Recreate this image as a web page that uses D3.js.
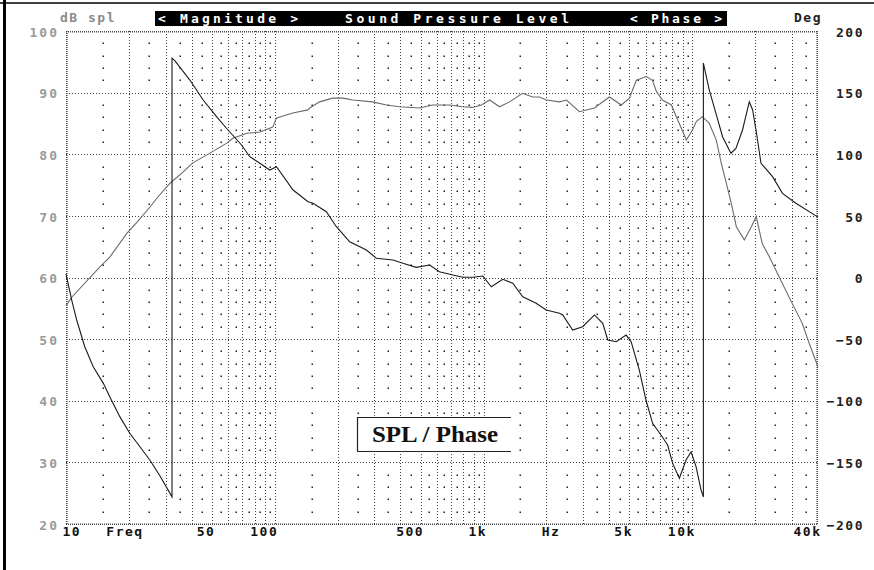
<!DOCTYPE html>
<html><head><meta charset="utf-8">
<script src="https://cdn.jsdelivr.net/npm/d3@7"></script>
<style>body{margin:0;background:#fff} svg{display:block}</style>
</head><body>
<svg id="c" width="874" height="570"></svg>
<script>
// ---------- data ----------
const splFreq = [10, 10.65, 14.5, 16.2, 19.6, 21.9, 25.2, 27.3, 31.5, 36.3, 40.5, 47.3, 58.9, 63, 73.5, 84.8, 97.8, 102, 122, 144,
  147, 164, 189, 212, 236, 294, 343, 396, 494, 570, 688, 793, 885, 977, 1069, 1193, 1332, 1537, 1716, 1853, 2001, 2310,
  2495, 2880, 3397, 4008, 4571, 4996, 5395, 6026, 6442, 6730, 7188, 7943, 8380, 8954, 9355, 10000, 10450, 11170, 12060,
  13030, 13770, 14550, 15380, 16260, 17750, 19150, 20230, 21630, 23350, 26070, 30080, 33590, 36310, 40000];
const splDb = [55.4, 56.8, 61.7, 63.3, 67.2, 69.0, 71.4, 72.9, 75.3, 77.1, 78.6, 79.9, 81.8, 82.6, 83.4, 83.6, 84.4, 85.9, 86.7, 87.2,
  87.5, 88.5, 89.1, 89.1, 88.8, 88.5, 88.0, 87.7, 87.5, 88.0, 88.0, 87.7, 87.6, 88.0, 88.8, 87.7, 88.5, 89.9, 89.3, 89.3, 88.8, 88.5,
  88.8, 86.9, 87.5, 89.3, 88.0, 89.1, 92.0, 92.6, 92.0, 90.2, 88.8, 88.0, 86.1, 83.9, 82.3, 83.9, 85.3, 86.1, 85.0,
  82.3, 78.5, 75.3, 72.0, 68.2, 66.1, 68.2, 69.9, 65.5, 63.4, 60.1, 55.8, 52.6, 49.3, 45.5];

const phaseFreq = [10, 10.65, 11.25, 12.3, 13.5, 15.1, 16.2, 18.1, 20.2, 22.6, 25.2, 28.2, 32.2, 32.2, 33.2, 39.2, 45.4, 52.6, 58.7, 69.3,
  75.9, 84.8, 94.6, 101.9, 122.4, 144.3, 152.5, 176.6, 197.3, 228.4, 274.8, 306.6, 368, 411, 476, 552, 615, 713, 796, 889,
  992, 1089, 1237, 1380, 1542, 1787, 1995, 2310, 2395, 2673, 2985, 3397, 3724, 3936, 4316, 4820, 5093, 5575, 5998, 6454,
  7079, 7617, 8050, 8670, 9333, 9863, 10420, 11010, 11300, 11300, 12060, 12980, 13960, 15310, 16180, 17400, 18750, 19450, 20190, 21330,
  24230, 27040, 31330, 40000];
const phaseDeg = [3, -18.3, -34.5, -56.2, -72.4, -85.9, -96.7, -112.9, -126.4, -137.3, -148.1, -161, -178, 178, 176, 160.2, 144, 130.5, 121.1, 107.5,
  98, 92.7, 87.2, 89.9, 71, 61.5, 60.2, 53.4, 41.2, 29, 22.3, 15.6, 14.2, 11.5, 8.2, 10.1, 4.7, 2, 0.2, 0.2,
  1.2, -7.5, -1.5, -4.7, -15.6, -20.9, -26.4, -29, -30.4, -42.6, -39.9, -30.4, -37.2, -50.7, -52.1, -46.7, -52.1, -75.1, -99.4, -118.3,
  -127.8, -135.9, -150.8, -162.9, -148.1, -141.4, -153.5, -172.4, -178, 174, 152.1, 133.2, 114.2, 100.8, 104.8, 119.7, 142.6, 135.9, 119.7, 92.7,
  81.8, 68.3, 60.2, 49];

const dbTicks = [20, 30, 40, 50, 60, 70, 80, 90, 100];
const degTicks = [-200, -150, -100, -50, 0, 50, 100, 150, 200];
const freqTickValues = [10, 50, 100, 500, 1000, 5000, 10000, 40000];
const freqTickLabels = ["10", "50", "100", "500", "1k", "5k", "10k", "40k"];
const gridFreqs = [20,30,40,50,60,70,80,90,100,200,300,400,500,600,700,800,900,1000,2000,3000,4000,5000,6000,7000,8000,9000,10000,20000,30000];
const minorFreqs = [15,25,35,45,55,65,75,85,95,150,250,350,450,550,650,750,850,950,1500,2500,3500,4500,5500,6500,7500,8500,9500,15000,25000,35000];
const minorDb = [22,24,26,28,32,34,36,38,42,44,46,48,52,54,56,58,62,64,66,68,72,74,76,78,82,84,86,88,92,94,96,98];
const titleParts = ["< Magnitude >", "Sound Pressure Level", "< Phase >"];

// ---------- layout ----------
const L = 66, R = 818, T = 31, B = 524;
const svg = d3.select("#c");
const x = d3.scaleLog().domain([10, 40000]).range([L, R]);
const yDb = d3.scaleLinear().domain([20, 100]).range([B, T]);
const yDeg = d3.scaleLinear().domain([-200, 200]).range([B, T]);
const mono = "'DejaVu Sans Mono', 'Liberation Mono', monospace";

svg.append("rect").attr("width", 874).attr("height", 570).attr("fill", "#fff");

// page edges from the scan
svg.append("line").attr("x1", 0).attr("x2", 874).attr("y1", 3).attr("y2", 3).attr("stroke", "#000").attr("stroke-width", 1.6);
svg.append("line").attr("x1", 4.5).attr("x2", 4.5).attr("y1", 0).attr("y2", 570).attr("stroke", "#000").attr("stroke-width", 3);

// grid
const g = svg.append("g");
g.selectAll("line.v").data(gridFreqs).join("line")
  .attr("x1", d => Math.round(x(d)) + 0.5).attr("x2", d => Math.round(x(d)) + 0.5)
  .attr("y1", T).attr("y2", B)
  .attr("stroke", "#000").attr("stroke-width", 1).attr("stroke-dasharray", "1,2").attr("opacity", 0.75);
g.selectAll("line.h").data(dbTicks.slice(1, -1)).join("line")
  .attr("x1", L).attr("x2", R)
  .attr("y1", d => Math.round(yDb(d)) + 0.5).attr("y2", d => Math.round(yDb(d)) + 0.5)
  .attr("stroke", "#000").attr("stroke-width", 1).attr("stroke-dasharray", "1,2").attr("opacity", 0.75);
const dots = [];
minorFreqs.forEach(f => minorDb.forEach(v => dots.push([f, v])));
g.selectAll("rect.dot").data(dots).join("rect")
  .attr("x", d => Math.round(x(d[0])) - 0.5).attr("y", d => Math.round(yDb(d[1])) - 0.5)
  .attr("width", 1.5).attr("height", 1.5).attr("fill", "#222");

// frame (dotted rulers)
const frame = svg.append("g").attr("stroke", "#444").attr("stroke-dasharray", "1,1").attr("stroke-width", 1);
frame.append("line").attr("x1", L).attr("x2", R).attr("y1", T + 0.5).attr("y2", T + 0.5);
frame.append("line").attr("x1", L).attr("x2", R).attr("y1", T + 1.5).attr("y2", T + 1.5).attr("opacity", 0.5);
frame.append("line").attr("x1", L).attr("x2", R).attr("y1", B + 0.5).attr("y2", B + 0.5);
frame.append("line").attr("x1", L).attr("x2", R).attr("y1", B - 0.5).attr("y2", B - 0.5).attr("opacity", 0.5);
frame.append("line").attr("x1", L + 0.5).attr("x2", L + 0.5).attr("y1", T).attr("y2", B);
frame.append("line").attr("x1", L + 1.5).attr("x2", L + 1.5).attr("y1", T).attr("y2", B).attr("opacity", 0.6);
frame.append("line").attr("x1", R - 0.5).attr("x2", R - 0.5).attr("y1", T).attr("y2", B);
frame.append("line").attr("x1", R - 1.5).attr("x2", R - 1.5).attr("y1", T).attr("y2", B).attr("opacity", 0.6);

// curves
const splLine = d3.line().x(d => x(d[0])).y(d => yDb(d[1]));
const phLine = d3.line().x(d => x(d[0])).y(d => yDeg(d[1]));
svg.append("path").datum(d3.zip(splFreq, splDb)).attr("d", splLine)
  .attr("fill", "none").attr("stroke", "#6a6a6a").attr("stroke-width", 1.1);
svg.append("path").datum(d3.zip(phaseFreq, phaseDeg)).attr("d", phLine)
  .attr("fill", "none").attr("stroke", "#1a1a1a").attr("stroke-width", 1.1);

// label box
const bx = 357, by = 417, bw = 154, bh = 35;
svg.append("rect").attr("x", bx).attr("y", by).attr("width", bw).attr("height", bh).attr("fill", "#fff");
svg.append("path").attr("d", `M${bx + bw},${by + 0.5}H${bx + 0.5}V${by + bh - 0.5}H${bx + bw}`)
  .attr("fill", "none").attr("stroke", "#222").attr("stroke-width", 1.2);
svg.append("text").attr("x", 372).attr("y", 442).attr("font-family", "'Liberation Serif', 'Times New Roman', serif")
  .attr("font-weight", "bold").attr("font-size", 24).attr("textLength", 126).attr("lengthAdjust", "spacingAndGlyphs")
  .attr("fill", "#111").text("SPL / Phase");

// axes
const axL = svg.append("g").attr("transform", `translate(${L},0)`)
  .call(d3.axisLeft(yDb).tickValues(dbTicks).tickSize(0).tickPadding(7));
axL.select(".domain").remove();
axL.selectAll("text").attr("font-family", mono).attr("font-weight", "bold").attr("font-size", 13)
  .attr("letter-spacing", 2).attr("fill", "#9a9a9a").attr("dy", "0.4em");

const axR = svg.append("g").attr("transform", `translate(${R},0)`)
  .call(d3.axisRight(yDeg).tickValues(degTicks).tickSize(0).tickPadding(3));
axR.select(".domain").remove();
axR.selectAll("text").attr("font-family", mono).attr("font-weight", "bold").attr("font-size", 13)
  .attr("letter-spacing", 1.5).attr("fill", "#222").attr("dy", "0.4em")
  .attr("text-anchor", "end").attr("x", 46);

const fmt = new Map(freqTickValues.map((v, i) => [v, freqTickLabels[i]]));
const axB = svg.append("g").attr("transform", `translate(0,${B})`)
  .call(d3.axisBottom(x).tickValues(freqTickValues).tickFormat(d => fmt.get(d)).tickSize(0).tickPadding(0));
axB.select(".domain").remove();
axB.selectAll("text").attr("font-family", mono).attr("font-weight", "bold").attr("font-size", 13)
  .attr("letter-spacing", 1.5).attr("fill", "#111").attr("dy", 12)
  .attr("text-anchor", (d, i) => i === 0 ? "start" : "end")
  .attr("x", (d, i) => i === 0 ? -4 : 3);

const axisText = (t, xx, yy, anchor, fill) => svg.append("text").attr("x", xx).attr("y", yy)
  .attr("text-anchor", anchor).attr("font-family", mono).attr("font-weight", "bold")
  .attr("font-size", 13).attr("letter-spacing", 1.5).attr("fill", fill).text(t);
axisText("Freq", 125, B + 12, "middle", "#111");
axisText("Hz", 551, B + 12, "middle", "#111");
axisText("dB spl", 60, 22, "start", "#8a8a8a");
axisText("Deg", 822, 22, "end", "#222");

// title bar
svg.append("rect").attr("x", 155).attr("y", 11).attr("width", 572).attr("height", 15).attr("fill", "#000");
const tpos = [[158, 140], [345, 224], [630, 92]];
titleParts.forEach((t, i) => {
  svg.append("text").attr("x", tpos[i][0]).attr("y", 23).attr("textLength", tpos[i][1]).attr("lengthAdjust", "spacing")
    .attr("font-family", mono).attr("font-weight", "bold").attr("font-size", 13).attr("fill", "#fff").text(t);
});
</script>
</body></html>
